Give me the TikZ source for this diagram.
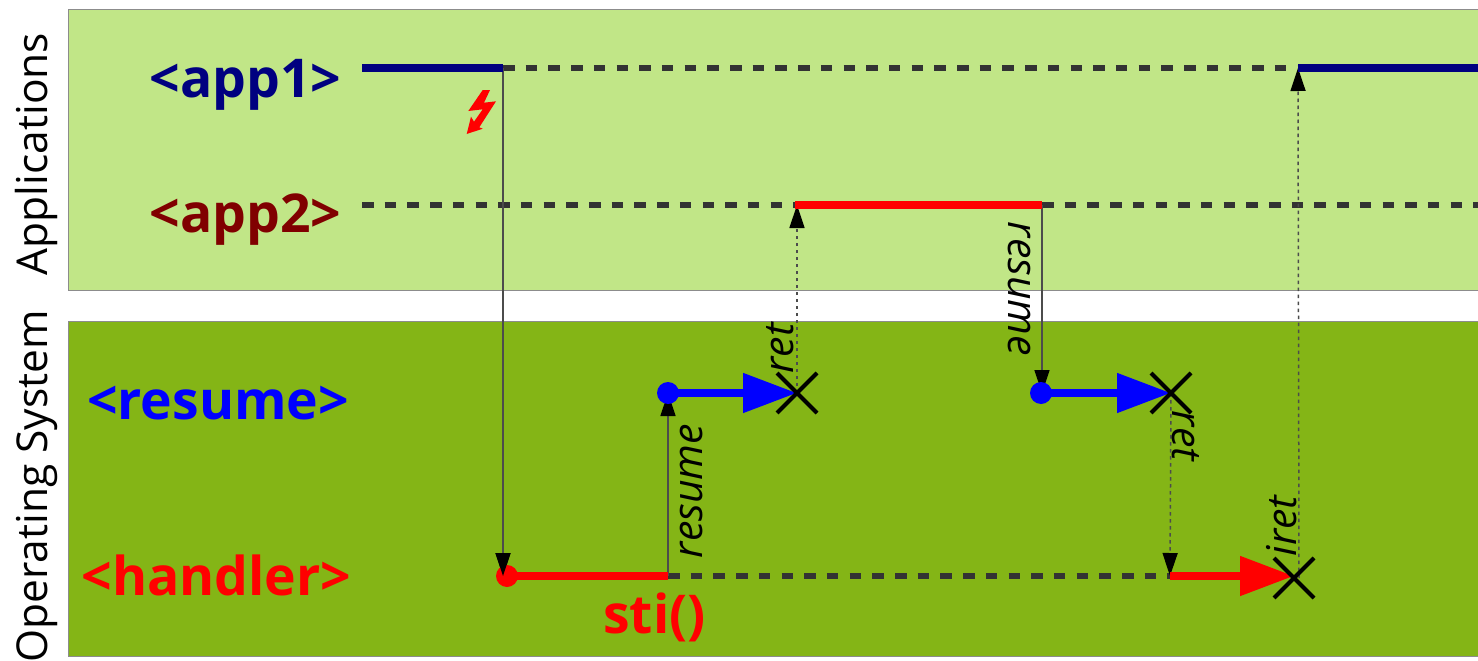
\documentclass[tikz,border=0pt]{standalone}
\usepackage{fontspec}
\setmainfont{Open Sans}
\usetikzlibrary{arrows.meta,shapes.misc}
\definecolor{applight}{HTML}{C1E687}
\definecolor{osgreen}{HTML}{84B516}
\definecolor{dashgrey}{HTML}{333333}
\definecolor{navyc}{HTML}{000080}
\definecolor{maroonc}{HTML}{800000}
\tikzset{
  panel/.style={draw=black!45,line width=1pt},
  running/.style={line width=8pt},
  idle/.style={draw=dashgrey,line width=6pt,dash pattern=on 11.5pt off 11.2pt},
  callarrow/.style={draw=black!70,line width=1.5pt,-{Triangle[length=23pt,width=15pt,fill=black,color=black]}},
  retarrow/.style={draw=black!70,line width=1.5pt,dash pattern=on 3.5pt off 3.5pt,-{Triangle[length=23pt,width=15pt,fill=black,color=black]}},
  bigarrow/.style={line width=8pt,-{Triangle[length=54pt,width=38pt]}},
  startdot/.style={circle,inner sep=0pt,minimum size=22pt},
  endcross/.style={cross out,draw=black,line width=4pt,inner sep=0pt,minimum size=36pt},
  biglabel/.style={font=\fontsize{53.5}{53.5}\selectfont\bfseries,inner sep=0pt,anchor=base},
  sidelabel/.style={font=\fontsize{42.5}{42.5}\selectfont,rotate=90,inner sep=0pt,anchor=base},
  steplabel/.style={font=\fontsize{41}{41}\selectfont\itshape,inner sep=0pt,anchor=base},
}
\begin{document}
\begin{tikzpicture}[x=1pt,y=-1pt]
\useasboundingbox (0,0) rectangle (1478,661);
\clip (0,0) rectangle (1478,661);
\fill[white] (0,0) rectangle (1478,661);
\node[panel,fill=applight,anchor=north west,inner sep=0pt,minimum width=1420pt,minimum height=281pt] (apps) at (68,9) {};
\node[panel,fill=osgreen,anchor=north west,inner sep=0pt,minimum width=1420pt,minimum height=335pt] (os) at (68,321) {};
\node[sidelabel] (appslabel) at (47,154) {Applications};
\node[sidelabel] (oslabel) at (47,486.5) {Operating System};
\node[biglabel,text=navyc] (lapp1) at (245.5,97) {<app1>};
\node[biglabel,text=maroonc] (lapp2) at (245.5,232) {<app2>};
\node[biglabel,text=blue] (lresume) at (218,419) {<resume>};
\node[biglabel,text=red] (lhandler) at (216.5,595) {<handler>};
\node[biglabel,text=red] (lsti) at (654.5,633) {sti()};
% timeline points
\coordinate (a1s) at (362,68);
\coordinate (a1e) at (503,68);
\coordinate (a1r) at (1298,68);
\coordinate (a1x) at (1478,68);
\coordinate (a2s) at (362,205);
\coordinate (a2r) at (795,205);
\coordinate (a2e) at (1042,205);
\coordinate (a2x) at (1478,205);
\coordinate (hs) at (507,576);
\coordinate (he) at (668,576);
\coordinate (hr) at (1170,576);
\coordinate (hx) at (1294,576);
\coordinate (htop) at (503,576);
\coordinate (hup) at (1299,578);
\coordinate (r1x) at (797,393);
\coordinate (r2x) at (1171,393);
\coordinate (r1top) at (668,393);
\coordinate (r2top) at (1042,393);
\coordinate (a2ret) at (797,205);
% idle
\draw[idle] (a1e) -- (a1r);
\draw[idle] (a2s) -- (a2r);
\draw[idle] (a2e) -- (a2x);
\draw[idle] (he) -- (hr);
% connectors
\draw[callarrow] (a1e) -- (htop);
\draw[callarrow] (he) -- (r1top);
\draw[callarrow] (a2e) -- (r2top);
\draw[retarrow] (r1x) -- (a2ret);
\draw[retarrow] (r2x) -- (hr);
\draw[retarrow] (hup) -- (a1r);
% running
\draw[running,navyc] (a1s) -- (a1e);
\draw[running,navyc] (a1r) -- (a1x);
\draw[running,red] (a2r) -- (a2e);
\draw[running,red] (hs) -- (he);
\draw[bigarrow,blue] (r1top) -- (r1x);
\draw[bigarrow,blue] (r2top) -- (r2x);
\draw[bigarrow,red] (hr) -- (hx);
\node[startdot,fill=blue] (d1) at (r1top) {};
\node[startdot,fill=blue] (d2) at (1041,393) {};
\node[startdot,fill=red] (d3) at (hs) {};
\fill[black] (495.5,553) -- (510.5,553) -- (503,576) -- cycle;
\node[endcross] (x1) at (r1x) {};
\node[endcross] (x2) at (r2x) {};
\node[endcross] (x3) at (1294,578) {};
% labels
\node[steplabel,rotate=90] (t1) at (702,491) {resume};
\node[steplabel,rotate=-90] (t2) at (1008,289) {resume};
\node[steplabel,rotate=90] (t3) at (793,348.5) {ret};
\node[steplabel,rotate=-90] (t4) at (1172,436) {ret};
\node[steplabel,rotate=90] (t5) at (1296,526) {iret};
% lightning
\fill[red] (482.7,90) -- (490,90) -- (484,102.7) -- (496,101.3) -- (479.3,127.3) -- (482.7,128.7) -- (466.7,134) -- (471,116.7) -- (474,121.7) -- (482.7,109.3) -- (468.3,111) -- cycle;
\end{tikzpicture}
\end{document}
